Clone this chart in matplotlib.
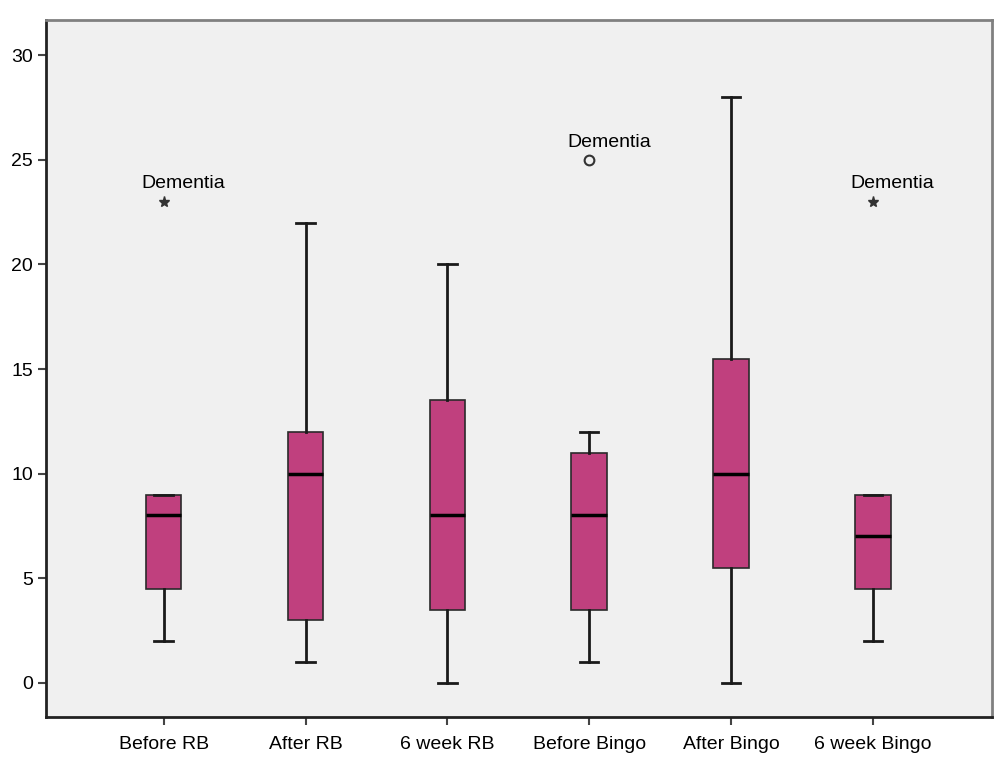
import matplotlib.pyplot as plt

plt.rcParams['font.family'] = ['Liberation Sans', 'DejaVu Sans']

# Gruppen und Kennwerte der Boxplots
gruppen = ["Before RB", "After RB", "6 week RB", "Before Bingo", "After Bingo", "6 week Bingo"]
minimum = [2, 1, 0, 1, 0, 2]
q1 = [4.5, 3, 3.5, 3.5, 5.5, 4.5]
median = [8, 10, 8, 8, 10, 7]
q3 = [9, 12, 13.5, 11, 15.5, 9]
maximum = [9, 22, 20, 12, 28, 9]

# Ausreisser: (Gruppe, Wert, Marker)
ausreisser_gruppe = [1, 4, 6]
ausreisser_wert = [23, 25, 23]
ausreisser_marker = ["*", "o", "*"]
ausreisser_text = ["Dementia", "Dementia", "Dementia"]

farbe = "#C0407E"

stats = []
for i in range(len(gruppen)):
    stats.append({"whislo": minimum[i], "q1": q1[i], "med": median[i],
                  "q3": q3[i], "whishi": maximum[i], "fliers": []})

fig, ax = plt.subplots(figsize=(10, 7.57), dpi=100)
fig.subplots_adjust(left=0.046, right=0.992, top=0.974, bottom=0.053)
ax.set_facecolor("#F0F0F0")

ax.bxp(stats, positions=range(1, len(gruppen) + 1), widths=0.25,
       patch_artist=True, showfliers=False,
       boxprops=dict(facecolor=farbe, edgecolor="#2a2a2a", linewidth=1.2),
       medianprops=dict(color="black", linewidth=2.5),
       whiskerprops=dict(color="#1a1a1a", linewidth=2),
       capprops=dict(color="#1a1a1a", linewidth=2), capwidths=0.13)

for g, w, m, t in zip(ausreisser_gruppe, ausreisser_wert, ausreisser_marker, ausreisser_text):
    if m == "o":
        ax.plot(g, w, marker="o", markersize=7, markerfacecolor="none",
                markeredgecolor="#333333", markeredgewidth=1.5)
    else:
        ax.plot(g, w, marker="*", markersize=8, color="#333333")
    ax.text(g + 0.14, w + 0.85, t, ha="center", va="center", fontsize=14)

ax.set_xlim(0.17, 6.84)
ax.set_ylim(-1.63, 31.7)
ax.set_yticks([0, 5, 10, 15, 20, 25, 30])
ax.set_xticks(range(1, len(gruppen) + 1))
ax.set_xticklabels(gruppen)
ax.tick_params(axis="both", labelsize=14, length=6, width=1.5, color="#444444")
ax.tick_params(axis="x", pad=8)
for s in ["top", "right"]:
    ax.spines[s].set_color("#808080")
    ax.spines[s].set_linewidth(2)
for s in ["left", "bottom"]:
    ax.spines[s].set_color("#222222")
    ax.spines[s].set_linewidth(2)

plt.savefig("out.png", dpi=100)
